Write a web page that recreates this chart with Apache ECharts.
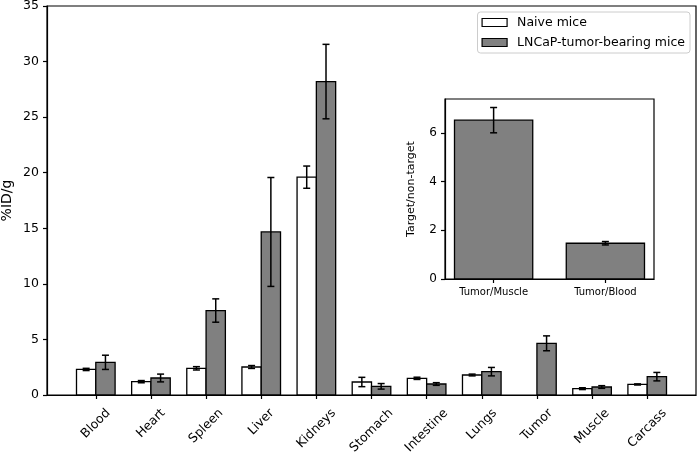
<html>
  <head>
    <meta charset="utf-8" />
    <title>%ID/g</title>
    <script type="text/javascript" src="https://cdn.jsdelivr.net/npm/echarts@6/dist/echarts.min.js"></script>
  </head>
  <body style="margin:0;background:#fff;">
    <div id="main" style="width:699px;height:459px;"></div>
    <script type="text/javascript">
      var organs = ['Blood', 'Heart', 'Spleen', 'Liver', 'Kidneys', 'Stomach', 'Intestine', 'Lungs', 'Tumor', 'Muscle', 'Carcass'];
      var naiveMean = [2.3, 1.2, 2.4, 2.52, 19.6, 1.17, 1.5, 1.8, null, 0.57, 0.95];
      var naiveErr = [0.1, 0.1, 0.15, 0.13, 1.0, 0.42, 0.1, 0.08, null, 0.08, 0.05];
      var tumorMean = [2.94, 1.53, 7.6, 14.67, 28.2, 0.78, 0.99, 2.1, 4.65, 0.72, 1.65];
      var tumorErr = [0.64, 0.35, 1.05, 4.9, 3.35, 0.25, 0.12, 0.38, 0.67, 0.12, 0.38];

      var ratioLabels = ['Tumor/Muscle', 'Tumor/Blood'];
      var ratioMean = [6.53, 1.47];
      var ratioErr = [0.52, 0.07];

      var FONT = '"DejaVu Sans", sans-serif';
      var organTicks = organs.map(function (n, i) { return i; });

      // bar + error bar, value = [x, mean, err, width]
      function barItem(params, api) {
        var x = api.value(0), y = api.value(1), e = api.value(2), w = api.value(3);
        var a = api.coord([x - w / 2, y]);
        var b = api.coord([x + w / 2, 0]);
        var top = api.coord([x, y + e]);
        var bot = api.coord([x, y - e]);
        var cap = 3.5;
        var line = { stroke: '#000', lineWidth: 1.5 };
        return {
          type: 'group',
          children: [
            { type: 'rect', shape: { x: a[0], y: a[1], width: b[0] - a[0], height: b[1] - a[1] },
              style: { fill: api.visual('color'), stroke: '#000', lineWidth: 1.3 } },
            { type: 'line', shape: { x1: top[0], y1: top[1], x2: bot[0], y2: bot[1] }, style: line },
            { type: 'line', shape: { x1: top[0] - cap, y1: top[1], x2: top[0] + cap, y2: top[1] }, style: line },
            { type: 'line', shape: { x1: bot[0] - cap, y1: bot[1], x2: bot[0] + cap, y2: bot[1] }, style: line }
          ]
        };
      }

      // rotated tick labels, box centred under the tick like matplotlib
      var measure = document.createElement('canvas').getContext('2d');
      var labelSize = 12.5;
      measure.font = labelSize + 'px ' + FONT;
      function labelItem(params, api) {
        var name = organs[params.dataIndex];
        var p = api.coord([api.value(0), 0]);
        var w = measure.measureText(name).width;
        var h = labelSize * 1.17;
        var boxH = (w + h) * Math.SQRT1_2;
        return {
          type: 'text',
          x: p[0],
          y: p[1] + 11 + boxH / 2,
          rotation: Math.PI / 4,
          style: { text: name, x: 0, y: 0, align: 'center', verticalAlign: 'middle',
                   fontSize: labelSize, fontFamily: FONT, fill: '#000' }
        };
      }

      var naiveData = [], tumorData = [];
      organs.forEach(function (n, i) {
        if (naiveMean[i] != null) naiveData.push([i - 0.175, naiveMean[i], naiveErr[i], 0.35]);
        tumorData.push([i + 0.175, tumorMean[i], tumorErr[i], 0.35]);
      });
      var ratioData = ratioMean.map(function (v, i) { return [i, v, ratioErr[i], 0.7]; });

      var axisLine = { show: true, onZero: false, lineStyle: { color: '#000', width: 1.2 } };
      var tickStyle = { color: '#000', width: 1.2 };

      var myChart = echarts.init(document.getElementById('main'));
      var option = {
        animation: false,
        textStyle: { fontFamily: FONT },
        legend: {
          orient: 'vertical',
          top: 12,
          right: 9,
          padding: [3.5, 5, 3.5, 4],
          itemWidth: 25,
          itemHeight: 8,
          itemGap: 6,
          borderColor: '#cccccc',
          borderWidth: 1,
          borderRadius: 3,
          backgroundColor: '#fff',
          textStyle: { fontSize: 12.5, fontFamily: FONT, color: '#000', lineHeight: 14, padding: [0, 0, 0, 5] },
          data: [
            { name: 'Naive mice', icon: 'rect', itemStyle: { color: '#fff', borderColor: '#000', borderWidth: 1.2 } },
            { name: 'LNCaP-tumor-bearing mice', icon: 'rect', itemStyle: { color: '#808080', borderColor: '#000', borderWidth: 1.2 } }
          ]
        },
        grid: [
          { left: 47, top: 6, right: 3, bottom: 64, show: true, borderColor: '#000', borderWidth: 1.2,
            containLabel: false, outerBoundsMode: 'none' },
          { left: 445, top: 99, width: 209, height: 180, show: true, borderColor: '#000', borderWidth: 1.2,
            backgroundColor: '#fff', containLabel: false, outerBoundsMode: 'none' }
        ],
        xAxis: [
          {
            gridIndex: 0, type: 'value', min: -0.885, max: 10.885,
            axisLine: axisLine,
            axisTick: { customValues: organTicks, length: 4, lineStyle: tickStyle },
            axisLabel: { show: false },
            splitLine: { show: false }
          },
          {
            gridIndex: 1, type: 'value', min: -0.435, max: 1.435,
            axisLine: axisLine,
            axisTick: { customValues: [0, 1], length: 4, lineStyle: tickStyle },
            axisLabel: { customValues: [0, 1], formatter: function (v) { return ratioLabels[Math.round(v)]; },
                         fontSize: 10, fontFamily: FONT, color: '#000', margin: 8 },
            splitLine: { show: false }
          }
        ],
        yAxis: [
          {
            gridIndex: 0, type: 'value', min: 0, max: 35, interval: 5,
            name: '%ID/g', nameLocation: 'middle', nameGap: 33, nameMoveOverlap: false,
            nameTextStyle: { fontSize: 14, fontFamily: FONT, color: '#000' },
            axisLine: axisLine,
            axisTick: { show: true, length: 4, lineStyle: tickStyle },
            axisLabel: { fontSize: 12.5, fontFamily: FONT, color: '#000', margin: 8 },
            splitLine: { show: false }
          },
          {
            gridIndex: 1, type: 'value', min: 0, max: 7.4, interval: 2,
            name: 'Target/non-target', nameLocation: 'middle', nameGap: 28, nameMoveOverlap: false,
            nameTextStyle: { fontSize: 11, fontFamily: FONT, color: '#000' },
            axisLine: axisLine,
            axisTick: { show: true, customValues: [0, 2, 4, 6], length: 4, lineStyle: tickStyle },
            axisLabel: { customValues: [0, 2, 4, 6], fontSize: 12, fontFamily: FONT, color: '#000', margin: 8 },
            splitLine: { show: false }
          }
        ],
        series: [
          {
            name: 'Naive mice', type: 'custom', xAxisIndex: 0, yAxisIndex: 0,
            itemStyle: { color: '#ffffff' }, renderItem: barItem, data: naiveData
          },
          {
            name: 'LNCaP-tumor-bearing mice', type: 'custom', xAxisIndex: 0, yAxisIndex: 0,
            itemStyle: { color: '#808080' }, renderItem: barItem, data: tumorData
          },
          {
            name: 'organ labels', type: 'custom', xAxisIndex: 0, yAxisIndex: 0, silent: true, clip: false,
            renderItem: labelItem, data: organTicks.map(function (i) { return [i]; })
          },
          {
            name: 'ratio', type: 'custom', xAxisIndex: 1, yAxisIndex: 1,
            itemStyle: { color: '#808080' }, renderItem: barItem, data: ratioData
          }
        ]
      };
      myChart.setOption(option);
    </script>
  </body>
</html>
